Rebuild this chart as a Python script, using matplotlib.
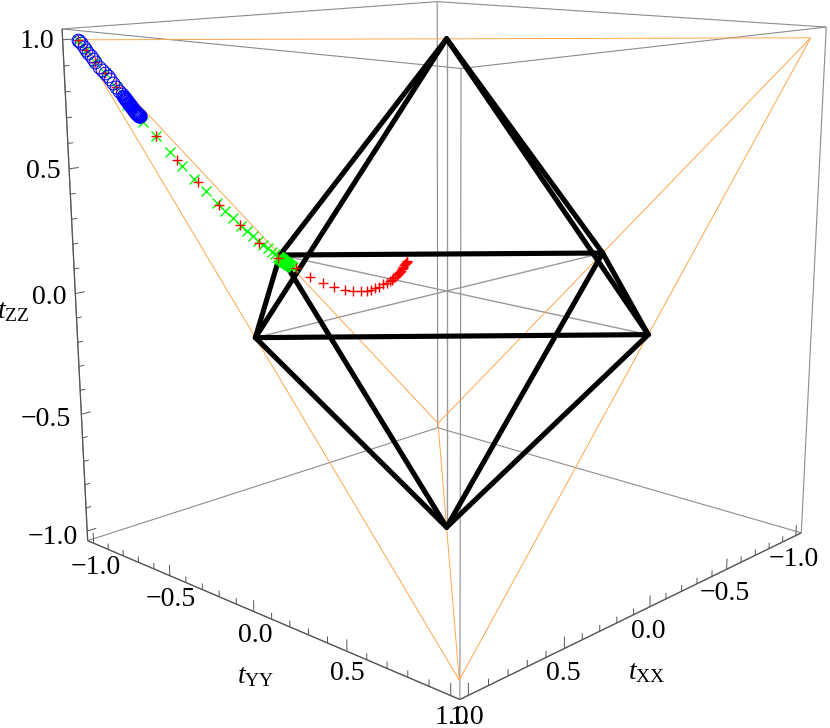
from itertools import combinations

import numpy as np
import matplotlib
matplotlib.use('Agg')
import matplotlib.pyplot as plt
from mpl_toolkits.mplot3d.art3d import Line3DCollection

plt.rcParams['font.family'] = 'Liberation Serif'
plt.rcParams['mathtext.fontset'] = 'custom'
plt.rcParams['mathtext.rm'] = 'Liberation Serif'
plt.rcParams['mathtext.it'] = 'Liberation Serif:italic'

# blue circles
blue_xx = [1.0, .997, .986, .974, .966, .956, .945, .937, .926, .909, .895, .880, .870, .859, .845, .834, .817, .807,
           .799, .797, .795, .792, .790, .788, .786, .783, .781, .779, .777, .774, .772, .770, .768, .765, .763, .761,
           .759, .756, .754, .752, .750, .748, .746, .745, .743, .742, .741, .739, .738, .736, .735, .733, .732, .730,
           .729, .727, .726, .725, .724, .723, .722]
blue_yy = [-1.0, -1.0, -1.0, -1.0, -1.0, -1.0, -1.0, -1.0, -1.0, -1.0, -1.0, -1.0, -1.0, -1.0, -1.0, -1.0, -1.0, -1.0,
           -1.0, -1.0, -1.0, -1.0, -1.0, -1.0, -1.0, -1.0, -1.0, -1.0, -1.0, -1.0, -1.0, -1.0, -1.0, -1.0, -1.0, -1.0,
           -1.0, -1.0, -1.0, -1.0, -1.0, -1.0, -1.0, -1.0, -1.0, -1.0, -1.0, -1.0, -1.0, -1.0, -1.0, -1.0, -1.0, -1.0,
           -1.0, -1.0, -1.0, -1.0, -1.0, -1.0, -1.0]
blue_zz = [1.0, .997, .986, .972, .959, .945, .934, .922, .911, .890, .876, .862, .850, .838, .820, .806, .789, .776,
           .766, .763, .761, .758, .755, .752, .750, .747, .744, .741, .738, .735, .732, .729, .727, .724, .721, .718,
           .715, .712, .709, .706, .704, .701, .699, .697, .696, .695, .694, .693, .692, .690, .689, .687, .686, .685,
           .684, .682, .681, .681, .680, .680, .680]

# green crosses
green_xx = [1.0, .966, .926, .880, .834, .785, .710, .647, .580, .519, .459, .402, .345, .301, .257, .216, .186, .153,
            .122, .094, .070, .048, .029, .010, .007, .004, .001, -.002, -.005, -.008, -.011, -.014, -.018, -.021,
            -.024, -.027, -.030, -.034, -.037, -.040, -.043, -.047, -.050, -.053, -.056, -.058, -.060, -.062]
green_yy = [-1.0, -1.0, -1.0, -1.0, -1.0, -1.0, -1.0, -1.0, -1.0, -1.0, -1.0, -1.0, -1.0, -1.0, -1.0, -1.0, -1.0, -1.0,
            -1.0, -1.0, -1.0, -1.0, -1.0, -1.0, -1.0, -1.0, -1.0, -1.0, -1.0, -1.0, -1.0, -1.0, -1.0, -1.0,
            -1.0, -1.0, -1.0, -1.0, -1.0, -1.0, -1.0, -1.0, -1.0, -1.0, -1.0, -.997, -.993, -.988]
green_zz = [1.0, .959, .911, .862, .806, .730, .656, .592, .519, .454, .391, .337, .278, .238, .199, .162, .135, .107,
            .082, .059, .041, .022, .008, -.006, -.009, -.012, -.015, -.017, -.019, -.021, -.023, -.025, -.028, -.031,
            -.034, -.036, -.038, -.040, -.042, -.044, -.046, -.049, -.051, -.053, -.055, -.058, -.060, -.062]

# red pluses
red_xx = [1.0, .966, .926, .880, .834, .647, .547, .442, .335, .222, .117, .010, -.066, -.101, -.123, -.137, -.138,
          -.132, -.123, -.112, -.099, -.082, -.065, -.044, -.029, -.012, -.003, .007, .019, .032, .040, .048, .057,
          .065, .073, .084, .092, .100, .107, .115, .123, .131]
red_yy = [-1.0, -1.0, -1.0, -1.0, -1.0, -1.0, -1.0, -1.0, -1.0, -1.0, -1.0, -1.0, -.971, -.920, -.862, -.802, -.736,
          -.678, -.620, -.574, -.537, -.492, -.449, -.404, -.369, -.332, -.312, -.293, -.270, -.248, -.234, -.220,
          -.205, -.192, -.178, -.162, -.150, -.137, -.127, -.115, -.102, -.089]
red_zz = [1.0, .959, .911, .862, .806, .592, .482, .377, .267, .165, .073, -.013, -.066, -.101, -.123, -.137, -.138,
          -.132, -.123, -.112, -.099, -.082, -.065, -.044, -.029, -.012, -.003, .007, .019, .032, .040, .048, .057,
          .065, .073, .084, .092, .100, .107, .115, .123, .131]

tetra = [(1, -1, 1), (-1, 1, 1), (1, 1, -1), (-1, -1, -1)]
octa = [(1, 0, 0), (-1, 0, 0), (0, 1, 0), (0, -1, 0), (0, 0, 1), (0, 0, -1)]
tick_values = np.arange(-10, 11) / 10
tick_labels = ['\u22121.0', '\u22120.5', '0.0', '0.5', '1.0']

# label centres in picture pixels
zz_pos = [(53, 538), (46, 420), (49, 298), (43, 172), (37, 41)]
yy_pos = [(96, 568), (171, 599), (255, 635), (347, 674), (452, 718)]
xx_pos = [(794, 560), (725, 593), (648, 632), (563, 673), (467, 718)]

# camera fitted to the box corners
ELEV, AZIM, FOCAL, SCALE, CX, CY, PAD = 13.2688, 43.2899, 0.3696, 4745.09, 446.59, 291.03, 1.0415
W, H = 830, 728
FS = 20

fig = plt.figure(figsize=(W / 100, H / 100), dpi=100)
ax = fig.add_subplot(projection='3d', computed_zorder=False)
ax.set_box_aspect((1, 1, 1))
ax.set_xlim(-PAD, PAD)
ax.set_ylim(-PAD, PAD)
ax.set_zlim(-PAD, PAD)
ax.view_init(ELEV, AZIM)
ax.set_proj_type('persp', focal_length=FOCAL)
ax.set_axis_off()
side = SCALE * 0.185
ax.set_position([(CX - SCALE * 0.095) / W, (H - CY - SCALE * 0.095) / H, side / W, side / H])


def edges(verts, keep):
    return [(a, b) for a, b in combinations(verts, 2) if keep(np.array(a), np.array(b))]


corners = [(x * PAD, y * PAD, z * PAD) for x in (-1, 1) for y in (-1, 1) for z in (-1, 1)]
box_edges = edges(corners, lambda a, b: np.sum(a != b) == 1)
axis_edges = [((PAD, -PAD, -PAD), (PAD, -PAD, PAD)),
              ((PAD, -PAD, -PAD), (PAD, PAD, -PAD)),
              ((PAD, PAD, -PAD), (-PAD, PAD, -PAD))]
octa_edges = edges(octa, lambda a, b: np.dot(a, b) == 0)
octa_axes = edges(octa, lambda a, b: np.dot(a, b) == -1)

ax.add_collection3d(Line3DCollection(box_edges, colors='#8c8c8c', linewidths=0.8, zorder=1))
ax.add_collection3d(Line3DCollection(axis_edges, colors='#555555', linewidths=0.9, zorder=1.5))
ax.add_collection3d(Line3DCollection(octa_axes, colors='#999999', linewidths=1.0, zorder=2))
ax.add_collection3d(Line3DCollection(edges(tetra, lambda a, b: True), colors='#ffa64d', linewidths=0.7, zorder=2.5))
ax.add_collection3d(Line3DCollection(octa_edges, colors='k', linewidths=3.7, capstyle='round', zorder=3))

# ticks, long ones every 0.5
ticks = []
for t in tick_values:
    l = 0.045 if round(t * 10) % 5 == 0 else 0.025
    ticks.append(((PAD, -PAD, t), (PAD - l, -PAD, t)))
    ticks.append(((PAD, t, -PAD), (PAD, t, -PAD + l)))
    ticks.append(((t, PAD, -PAD), (t, PAD, -PAD + l)))
ax.add_collection3d(Line3DCollection(ticks, colors='#555555', linewidths=0.7, zorder=1.5))

ax.plot(green_xx, green_yy, green_zz, 'x', color='#00ff00', ms=7.2, mew=1.0, zorder=4)
ax.plot(red_xx, red_yy, red_zz, '+', color='#ff0000', ms=7.5, mew=1.0, zorder=5)
ax.plot(blue_xx, blue_yy, blue_zz, 'o', mfc='none', mec='#0000ff', ms=9.2, mew=0.7, zorder=6)


def label(px, py, s):
    fig.text(px / W, 1 - py / H, s, ha='center', va='center', fontsize=FS)


for pos in (zz_pos, yy_pos, xx_pos):
    for (px, py), s in zip(pos, tick_labels):
        label(px, py, s)
label(13, 312, r'$\mathit{t}_{\mathrm{ZZ}}$')
label(256, 677, r'$\mathit{t}_{\mathrm{YY}}$')
label(647, 673, r'$\mathit{t}_{\mathrm{XX}}$')

fig.savefig('out.png', dpi=100)
